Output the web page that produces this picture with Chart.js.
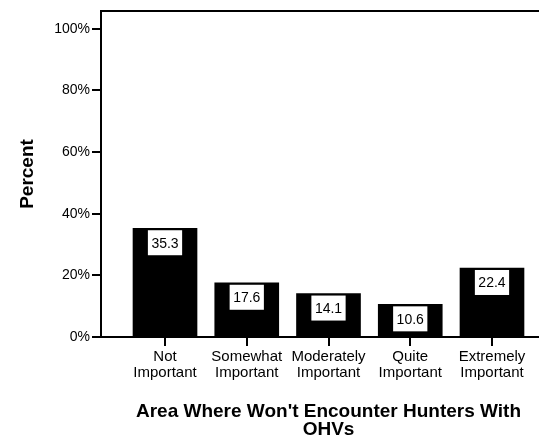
<!DOCTYPE html>
<html>
<head>
<meta charset="utf-8">
<script src="https://cdn.jsdelivr.net/npm/chart.js@4/dist/chart.umd.min.js"></script>
<style>
  html, body { margin: 0; padding: 0; background: #fff; }
  #wrap { width: 539px; height: 437px; overflow: hidden; position: relative; }
  #box { width: 556px; height: 437px; }
</style>
</head>
<body>
<div id="wrap"><div id="box"><canvas id="chart"></canvas></div></div>
<script>
// datos
const categories = [['Not', 'Important'], ['Somewhat', 'Important'], ['Moderately', 'Important'], ['Quite', 'Important'], ['Extremely', 'Important']];
const percents = [35.3, 17.6, 14.1, 10.6, 22.4];
const yTicks = [0, 20, 40, 60, 80, 100];
const yTitle = 'Percent';
const xTitle = ["Area Where Won't Encounter Hunters With", 'OHVs'];

const FONT = 'Liberation Sans, Arial, sans-serif';

// cajas blancas con el valor dentro de cada barra
const valueBoxes = {
  id: 'valueBoxes',
  afterDatasetsDraw(chart) {
    const ctx = chart.ctx;
    const meta = chart.getDatasetMeta(0);
    ctx.save();
    ctx.font = '14px ' + FONT;
    ctx.textAlign = 'center';
    ctx.textBaseline = 'middle';
    meta.data.forEach((bar, i) => {
      const txt = percents[i].toFixed(1);
      const w = ctx.measureText(txt).width + 7;
      const h = 25;
      const top = bar.y + 2;
      ctx.fillStyle = '#fff';
      ctx.fillRect(bar.x - w / 2, top, w, h);
      ctx.fillStyle = '#000';
      ctx.fillText(txt, bar.x, top + h / 2 + 1);
    });
    ctx.restore();
  }
};

// linea superior del marco
const topBorder = {
  id: 'topBorder',
  afterDraw(chart) {
    const a = chart.chartArea;
    const ctx = chart.ctx;
    ctx.save();
    ctx.strokeStyle = '#000';
    ctx.lineWidth = 2;
    ctx.beginPath();
    ctx.moveTo(a.left - 1, a.top);
    ctx.lineTo(a.right, a.top);
    ctx.stroke();
    ctx.restore();
  }
};

new Chart(document.getElementById('chart'), {
  type: 'bar',
  data: {
    datasets: [{
      data: percents.map((v, i) => ({ x: i, y: v })),
      backgroundColor: '#000',
      borderWidth: 0,
      barThickness: 64
    }]
  },
  options: {
    responsive: true,
    maintainAspectRatio: false,
    animation: false,
    layout: { padding: { top: 11, right: 0, left: 0, bottom: 0 } },
    plugins: { legend: { display: false }, tooltip: { enabled: false } },
    scales: {
      x: {
        type: 'linear',
        offset: false,
        min: -0.783,
        max: 4.783,
        afterBuildTicks: s => { s.ticks = categories.map((c, i) => ({ value: i })); },
        afterFit: s => { s.height = 100; },
        ticks: {
          autoSkip: false,
          maxRotation: 0,
          padding: 3,
          color: '#000',
          font: { family: FONT, size: 15, lineHeight: 1.07 },
          callback: v => categories[v]
        },
        grid: { display: true, offset: false, drawOnChartArea: false, drawTicks: true, tickLength: 9, color: '#000', lineWidth: 2 },
        border: { display: true, color: '#000', width: 2 },
        title: {
          display: true,
          text: xTitle,
          color: '#000',
          font: { family: FONT, size: 19, weight: 'bold', lineHeight: 0.95 },
          padding: { top: 0, bottom: -2 }
        }
      },
      y: {
        min: 0,
        max: 105.8,
        afterBuildTicks: s => { s.ticks = yTicks.map(v => ({ value: v })); },
        afterFit: s => { s.width = 101; },
        ticks: {
          padding: 2,
          color: '#000',
          font: { family: FONT, size: 14 },
          callback: v => v + '%'
        },
        grid: { display: true, drawOnChartArea: false, drawTicks: true, tickLength: 9, color: '#000', lineWidth: 2 },
        border: { display: true, color: '#000', width: 2 },
        title: {
          display: true,
          text: yTitle,
          color: '#000',
          font: { family: FONT, size: 19, weight: 'bold', lineHeight: 1.2 },
          padding: { top: 16, bottom: 0 }
        }
      }
    }
  },
  plugins: [valueBoxes, topBorder]
});
</script>
</body>
</html>
